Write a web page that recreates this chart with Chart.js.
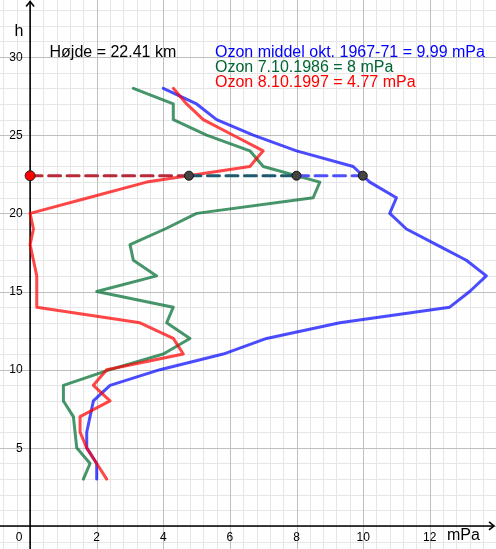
<!DOCTYPE html>
<html><head><meta charset="utf-8">
<script src="https://cdn.jsdelivr.net/npm/chart.js@4"></script>
<style>html,body{margin:0;padding:0;background:#fff}canvas{display:block}</style>
</head><body>
<canvas id="c" width="496" height="549" style="width:496px;height:549px"></canvas>
<script>
// Heights (km) and ozone partial pressures (mPa)
const heights   = [3,4,5,6,7,8,9,10,11,12,13,14,15,16,17,18,19,20,21,22,23,24,25,26,27,28];
const blueMean  = [2.0,2.0,1.7,1.7,1.8,1.9,2.4,3.9,5.8,7.1,9.3,12.6,13.2,13.7,13.1,12.2,11.3,10.8,11.0,10.2,9.7,8.0,6.7,5.6,5.0,4.0];
const green1986 = [1.6,1.8,1.4,1.35,1.3,1.0,1.0,2.4,4.0,4.8,4.1,4.3,2.0,3.8,3.1,3.0,4.05,5.0,8.5,8.7,7.0,6.6,5.3,4.3,4.3,3.1];
const red1997   = [2.3,2.0,1.7,1.5,1.5,2.4,1.9,2.3,4.6,4.3,3.3,0.2,0.2,0.2,0.1,0.0,0.1,0.0,1.75,3.5,6.6,7.0,6.1,5.2,4.7,4.3];

const hoejde = 22.41;
const blueAtH = 9.99, greenAtH = 8, redAtH = 4.77;

const xTickLabels = [2,4,6,8,10,12];
const yTickLabels = [5,10,15,20,25,30];
const legendTexts = [
  'Ozon middel okt. 1967-71 = ' + blueAtH + ' mPa',
  'Ozon 7.10.1986 = ' + greenAtH + ' mPa',
  'Ozon 8.10.1997 = ' + redAtH + ' mPa'
];
const legendColors = ['#0000ff', '#006633', '#ff0000'];

const toPts = arr => arr.map((v, i) => ({x: v, y: heights[i]}));
const FONT = '"Liberation Sans", Arial, sans-serif';

function gridVals(from, to, step) { const t = []; for (let v = from; v <= to + 1e-9; v += step) t.push(Math.round(v * 100) / 100); return t; }
const isMajor = (v, m) => Math.abs(v / m - Math.round(v / m)) < 1e-6;

const overlay = {
  id: 'overlay',
  beforeDatasetsDraw(chart) {
    const {ctx} = chart; const xs = chart.scales.x, ys = chart.scales.y;
    const W = chart.width, H = chart.height;
    const x0 = xs.getPixelForValue(0), y0 = ys.getPixelForValue(0);
    ctx.save();
    ctx.lineWidth = 1;
    [false, true].forEach(major => {
      ctx.strokeStyle = major ? '#c0c0c0' : '#e6e6e6';
      ctx.beginPath();
      gridVals(-0.8, 13.6, 0.4).forEach(v => { if (isMajor(v, 2) === major) { const p = Math.round(xs.getPixelForValue(v)) + 0.5; ctx.moveTo(p, 0); ctx.lineTo(p, H); } });
      gridVals(-1, 33, 1).forEach(v => { if (isMajor(v, 5) === major) { const p = Math.round(ys.getPixelForValue(v)) + 0.5; ctx.moveTo(0, p); ctx.lineTo(W, p); } });
      ctx.stroke();
    });
    ctx.strokeStyle = '#000'; ctx.lineWidth = 1.6;
    ctx.beginPath(); ctx.moveTo(x0, H); ctx.lineTo(x0, 1.5); ctx.stroke();
    ctx.beginPath(); ctx.moveTo(x0 - 4, 6.5); ctx.lineTo(x0, 1.5); ctx.lineTo(x0 + 4, 6.5); ctx.stroke();
    ctx.beginPath(); ctx.moveTo(0, y0); ctx.lineTo(W - 2, y0); ctx.stroke();
    ctx.beginPath(); ctx.moveTo(W - 7, y0 - 4); ctx.lineTo(W - 2, y0); ctx.lineTo(W - 7, y0 + 4); ctx.stroke();
    ctx.fillStyle = '#000';
    ctx.font = '12px ' + FONT;
    ctx.textAlign = 'center'; ctx.textBaseline = 'alphabetic';
    xTickLabels.forEach(v => ctx.fillText(String(v), xs.getPixelForValue(v), y0 + 15));
    ctx.fillText('0', x0 - 11, y0 + 15);
    ctx.textAlign = 'right'; ctx.textBaseline = 'middle';
    yTickLabels.forEach(v => ctx.fillText(String(v), x0 - 7.5, ys.getPixelForValue(v) + 0.5));
    ctx.font = '16px ' + FONT;
    ctx.textAlign = 'left'; ctx.textBaseline = 'alphabetic';
    ctx.fillText('h', 14.5, 36);
    ctx.fillText('mPa', 447, 540);
    ctx.restore();
  },
  afterDatasetsDraw(chart) {
    const {ctx} = chart;
    ctx.save();
    ctx.font = '16px ' + FONT;
    ctx.textAlign = 'left'; ctx.textBaseline = 'alphabetic';
    ctx.fillStyle = '#000';
    ctx.fillText('Højde = ' + hoejde.toFixed(2) + ' km', 49.5, 57.3);
    const bases = [56.7, 71.8, 87];
    legendTexts.forEach((t, i) => { ctx.fillStyle = legendColors[i]; ctx.fillText(t, 215, bases[i]); });
    ctx.restore();
  }
};

new Chart(document.getElementById('c'), {
  type: 'scatter',
  data: {
    datasets: [
      {data: [{x: 0, y: hoejde}], pointRadius: 5, pointBackgroundColor: '#ff0000', pointBorderColor: '#222', pointBorderWidth: 1, showLine: false, order: 0},
      {data: [{x: redAtH, y: hoejde}, {x: greenAtH, y: hoejde}, {x: blueAtH, y: hoejde}], pointRadius: 4.5, pointBackgroundColor: '#444', pointBorderColor: '#111', pointBorderWidth: 1, showLine: false, order: 0},
      {data: [{x: 0, y: hoejde}, {x: redAtH, y: hoejde}], showLine: true, pointRadius: 0, borderColor: '#b8293a', borderWidth: 3, borderDash: [12, 6.5], order: 1},
      {data: [{x: redAtH, y: hoejde}, {x: greenAtH, y: hoejde}], showLine: true, pointRadius: 0, borderColor: '#1e5a6e', borderWidth: 3, borderDash: [12, 6.5], order: 1},
      {data: [{x: greenAtH, y: hoejde}, {x: blueAtH, y: hoejde}], showLine: true, pointRadius: 0, borderColor: '#5050ff', borderWidth: 3, borderDash: [12, 6.5], order: 1},
      {data: toPts(red1997), showLine: true, pointRadius: 0, borderColor: 'rgba(255,0,0,0.72)', borderWidth: 3, order: 2},
      {data: toPts(green1986), showLine: true, pointRadius: 0, borderColor: 'rgba(0,110,50,0.72)', borderWidth: 3, order: 3},
      {data: toPts(blueMean), showLine: true, pointRadius: 0, borderColor: 'rgba(0,0,255,0.7)', borderWidth: 3, order: 4}
    ]
  },
  options: {
    responsive: false, animation: false, devicePixelRatio: 1,
    layout: {padding: 0, autoPadding: false},
    plugins: {legend: {display: false}, tooltip: {enabled: false}},
    elements: {line: {tension: 0, borderJoinStyle: 'round', borderCapStyle: 'round'}},
    scales: {
      x: {type: 'linear', display: false, min: -0.904, max: 13.99},
      y: {type: 'linear', display: false, min: -1.4715, max: 33.65}
    }
  },
  plugins: [overlay]
});
</script>
</body></html>
